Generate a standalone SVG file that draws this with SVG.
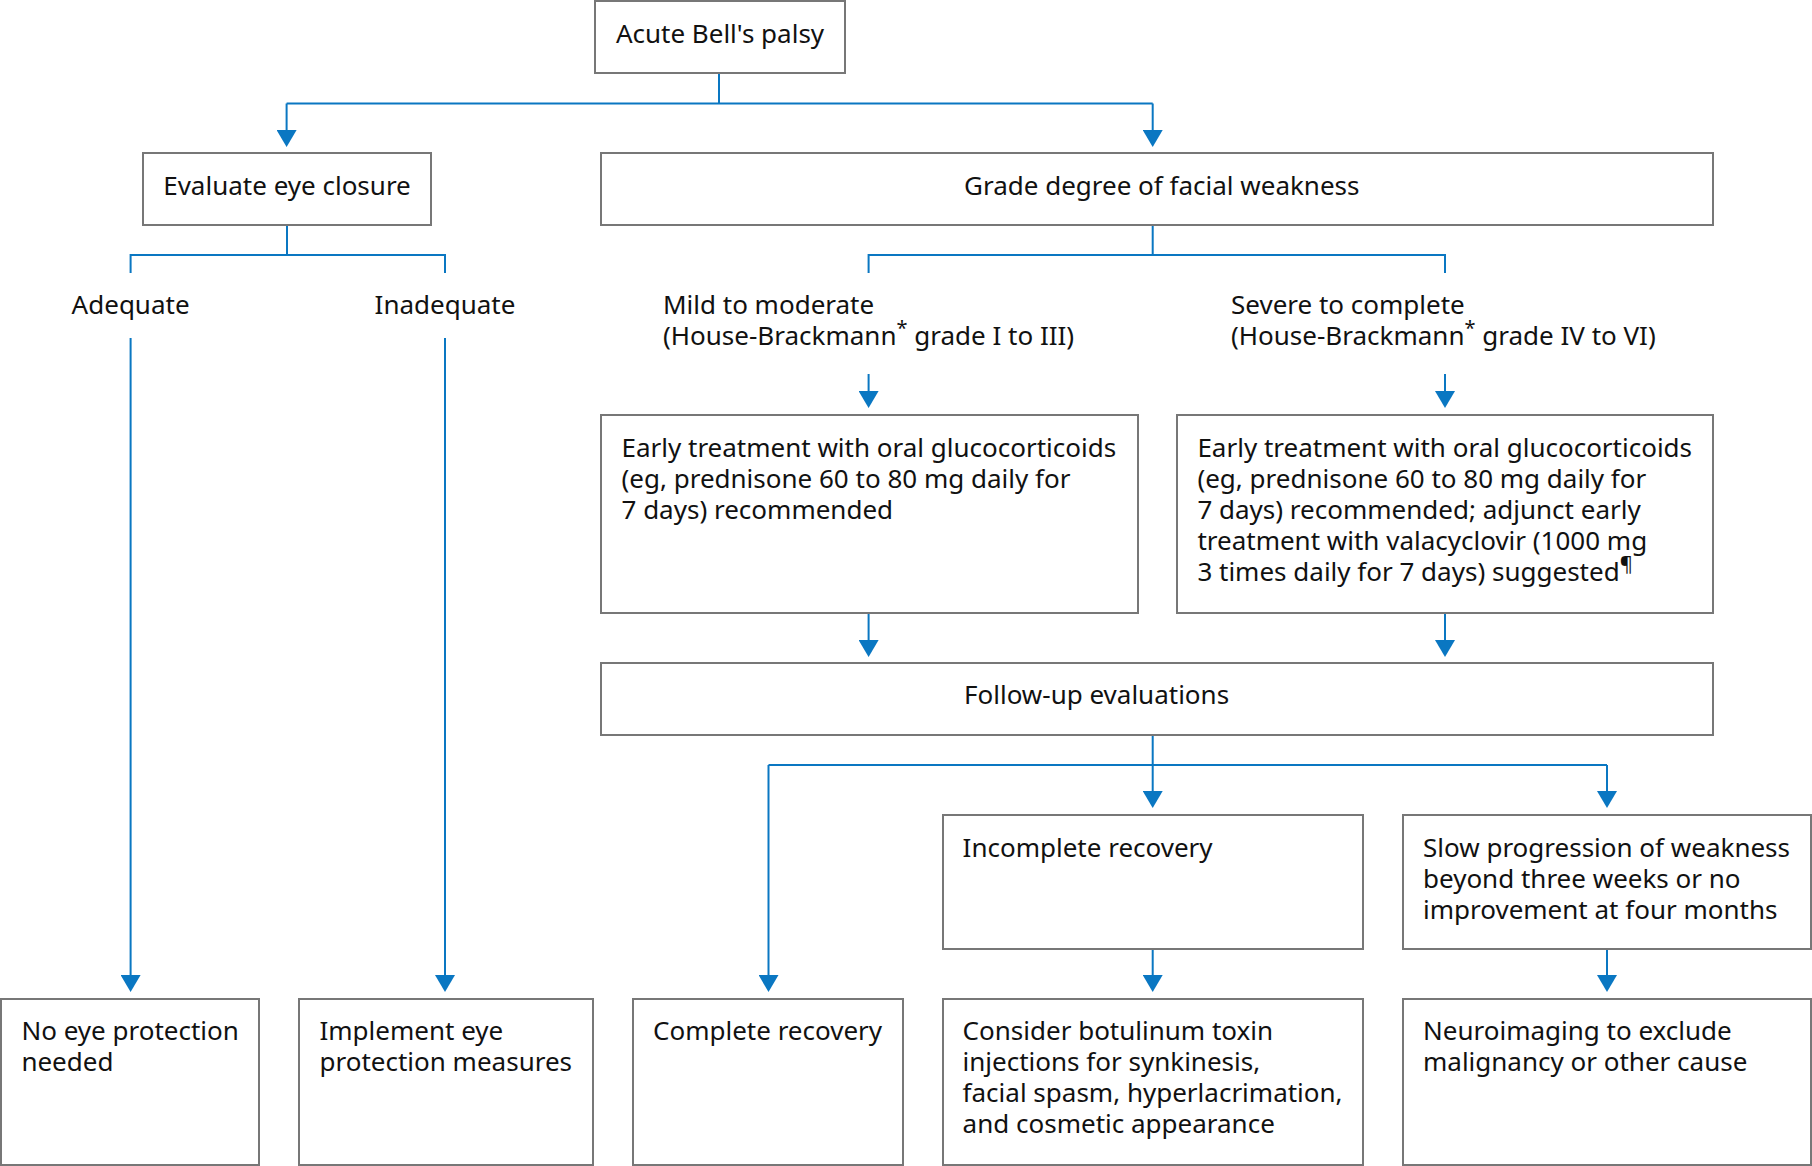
<svg xmlns="http://www.w3.org/2000/svg" width="1812" height="1166" viewBox="0 0 1812 1166">
<defs>
<style>
.box{fill:#fff;stroke:#777;stroke-width:2}
.ln{fill:none;stroke:#0a77c2;stroke-width:2}
.t{font-family:"Noto Sans","Open Sans","DejaVu Sans",sans-serif;font-size:26px;fill:#111}
.m{text-anchor:middle}
.sup{font-size:20px}
</style>
<marker id="ah" viewBox="0 0 17 20" refX="7" refY="10" markerWidth="17" markerHeight="20" markerUnits="userSpaceOnUse" orient="auto">
<path d="M0,0 L17,10 L0,20 z" fill="#0a77c2"/>
</marker>
</defs>
<rect width="1812" height="1166" fill="#fff"/>
<g id="connectors">
<path class="ln" d="M719,73 V103.5 M286.6,103.5 H1152.7"/>
<path class="ln" d="M286.6,103.5 V137" marker-end="url(#ah)"/>
<path class="ln" d="M1152.7,103.5 V137" marker-end="url(#ah)"/>
<path class="ln" d="M287,225 V255 M130.6,273 V255 H445 V273"/>
<path class="ln" d="M130.6,338 V982" marker-end="url(#ah)"/>
<path class="ln" d="M445,338 V982" marker-end="url(#ah)"/>
<path class="ln" d="M1152.7,225 V255 M868.6,273 V255 H1445 V273"/>
<path class="ln" d="M868.6,374 V398" marker-end="url(#ah)"/>
<path class="ln" d="M1445,374 V398" marker-end="url(#ah)"/>
<path class="ln" d="M868.6,613 V647" marker-end="url(#ah)"/>
<path class="ln" d="M1445,613 V647" marker-end="url(#ah)"/>
<path class="ln" d="M1152.7,735 V765 M768.5,765 H1607"/>
<path class="ln" d="M768.5,765 V982" marker-end="url(#ah)"/>
<path class="ln" d="M1152.7,765 V798" marker-end="url(#ah)"/>
<path class="ln" d="M1607,765 V798" marker-end="url(#ah)"/>
<path class="ln" d="M1152.7,949 V982" marker-end="url(#ah)"/>
<path class="ln" d="M1607,949 V982" marker-end="url(#ah)"/>
</g>
<g id="acute">
<rect class="box" x="595" y="1" width="250" height="72"/>
<text class="t m" x="720" y="43">Acute Bell's palsy</text>
</g>
<g id="evaluate">
<rect class="box" x="143" y="153" width="288" height="72"/>
<text class="t m" x="287" y="195">Evaluate eye closure</text>
</g>
<g id="grade">
<rect class="box" x="601" y="153" width="1112" height="72"/>
<text class="t" x="964" y="195">Grade degree of facial weakness</text>
</g>
<g id="adequate">
<text class="t m" x="130.6" y="314">Adequate</text>
</g>
<g id="inadequate">
<text class="t m" x="445" y="314">Inadequate</text>
</g>
<g id="mild">
<text class="t" x="663" y="314">Mild to moderate<tspan x="663" y="345">(House-Brackmann</tspan><tspan class="sup" dy="-10">*</tspan><tspan dy="10"> grade I to III)</tspan></text>
</g>
<g id="severe">
<text class="t" x="1231" y="314">Severe to complete<tspan x="1231" y="345">(House-Brackmann</tspan><tspan class="sup" dy="-10">*</tspan><tspan dy="10"> grade IV to VI)</tspan></text>
</g>
<g id="mild-treatment">
<rect class="box" x="601" y="415" width="537" height="198"/>
<text class="t" x="621.5" y="457">Early treatment with oral glucocorticoids<tspan x="621.5" y="488">(eg, prednisone 60 to 80 mg daily for</tspan><tspan x="621.5" y="519">7 days) recommended</tspan></text>
</g>
<g id="severe-treatment">
<rect class="box" x="1177" y="415" width="536" height="198"/>
<text class="t" x="1197.4" y="457">Early treatment with oral glucocorticoids<tspan x="1197.4" y="488">(eg, prednisone 60 to 80 mg daily for</tspan><tspan x="1197.4" y="519">7 days) recommended; adjunct early</tspan><tspan x="1197.4" y="550">treatment with valacyclovir (1000 mg</tspan><tspan x="1197.4" y="581">3 times daily for 7 days) suggested</tspan><tspan class="sup" dy="-10">¶</tspan></text>
</g>
<g id="followup">
<rect class="box" x="601" y="663" width="1112" height="72"/>
<text class="t" x="964" y="704">Follow-up evaluations</text>
</g>
<g id="incomplete">
<rect class="box" x="943" y="815" width="420" height="134"/>
<text class="t" x="962.6" y="857">Incomplete recovery</text>
</g>
<g id="slow">
<rect class="box" x="1403" y="815" width="408" height="134"/>
<text class="t" x="1423" y="857">Slow progression of weakness<tspan x="1423" y="888">beyond three weeks or no</tspan><tspan x="1423" y="919">improvement at four months</tspan></text>
</g>
<g id="no-protection">
<rect class="box" x="1" y="999" width="258" height="166"/>
<text class="t" x="21.4" y="1040">No eye protection<tspan x="21.4" y="1071">needed</tspan></text>
</g>
<g id="implement">
<rect class="box" x="299" y="999" width="294" height="166"/>
<text class="t" x="319.5" y="1040">Implement eye<tspan x="319.5" y="1071">protection measures</tspan></text>
</g>
<g id="complete">
<rect class="box" x="633" y="999" width="270" height="166"/>
<text class="t" x="653" y="1040">Complete recovery</text>
</g>
<g id="botulinum">
<rect class="box" x="943" y="999" width="420" height="166"/>
<text class="t" x="962.6" y="1040">Consider botulinum toxin<tspan x="962.6" y="1071">injections for synkinesis,</tspan><tspan x="962.6" y="1102">facial spasm, hyperlacrimation,</tspan><tspan x="962.6" y="1133">and cosmetic appearance</tspan></text>
</g>
<g id="neuroimaging">
<rect class="box" x="1403" y="999" width="408" height="166"/>
<text class="t" x="1423" y="1040">Neuroimaging to exclude<tspan x="1423" y="1071">malignancy or other cause</tspan></text>
</g>
</svg>
